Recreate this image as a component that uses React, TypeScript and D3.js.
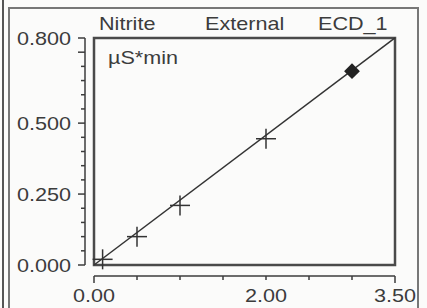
import React from 'react';
import * as d3 from 'd3';

// calibration points (amount vs area)
const stdAmounts = [0.1, 0.5, 1.0, 2.0];
const stdAreas = [0.02, 0.1, 0.21, 0.445];
const sampleAmount = [3.0];
const sampleArea = [0.683];
const slope = 0.2286;

const xTickLabels = ['0.00', '2.00', '3.50'];
const yTickLabels = ['0.000', '0.250', '0.500', '0.800'];
const titles = ['Nitrite', 'External', 'ECD_1'];

const W = 427;
const H = 308;
const ink = '#3c3c3c';
const fontFamily = '"Liberation Sans", Arial, sans-serif';

const Label = ({ x, y, anchor, children }) => (
  <text
    transform={`translate(${x},${y}) scale(1.2,1)`}
    textAnchor={anchor}
    fontSize={18}
    fontFamily={fontFamily}
    fill={ink}
  >
    {children}
  </text>
);

const App = () => {
  const x = d3.scaleLinear().domain([0, 3.5]).range([94, 395]);
  const y = d3.scaleLinear().domain([0, 0.8]).range([265, 38]);

  const yTicks = d3.range(0, 0.8001, 0.05);
  const xTicks = d3.range(0, 3.5001, 0.5);
  const yAxisX = 85;
  const xAxisY = 276;

  const line = d3
    .line()
    .x((d) => x(d[0]))
    .y((d) => y(d[1]));
  const fit = line([
    [0, 0],
    [3.5, slope * 3.5],
  ]);

  // square turned 45deg, as the sample marker
  const marker = d3.symbol().type(d3.symbolSquare).size(125)();

  return (
    <svg
      width={W}
      height={H}
      style={{ position: 'absolute', left: 0, top: 0, background: '#fbfbfa' }}
    >
      {/* window frames */}
      <line x1={3} x2={3} y1={0} y2={H} stroke="#555" strokeWidth={2} />
      <rect x={9} y={8} width={409} height={306} fill="none" stroke="#777" strokeWidth={2} />

      {/* header */}
      <Label x={99} y={30} anchor="start">{titles[0]}</Label>
      <Label x={205} y={30} anchor="start">{titles[1]}</Label>
      <Label x={318} y={30} anchor="start">{titles[2]}</Label>

      {/* plot frame */}
      <rect
        x={x(0)}
        y={y(0.8)}
        width={x(3.5) - x(0)}
        height={y(0) - y(0.8)}
        fill="none"
        stroke="#4a4a4a"
        strokeWidth={2.5}
      />
      <Label x={108} y={64} anchor="start">µS*min</Label>

      {/* y axis */}
      <line x1={yAxisX} x2={yAxisX} y1={y(0.8)} y2={y(0)} stroke={ink} strokeWidth={1.5} />
      {yTicks.map((t, i) => {
        const major = Math.abs(t - 0.25 * Math.round(t / 0.25)) < 1e-6 || i === yTicks.length - 1;
        return (
          <line
            key={i}
            x1={yAxisX - (major ? 7 : 4)}
            x2={yAxisX}
            y1={y(t)}
            y2={y(t)}
            stroke={ink}
            strokeWidth={1.5}
          />
        );
      })}
      {yTickLabels.map((l) => (
        <Label key={l} x={71} y={y(+l) + 6.5} anchor="end">{l}</Label>
      ))}

      {/* x axis */}
      <line x1={x(0)} x2={x(3.5)} y1={xAxisY} y2={xAxisY} stroke={ink} strokeWidth={1.5} />
      {xTicks.map((t, i) => {
        const major = i === 0 || i === xTicks.length - 1;
        return (
          <line
            key={i}
            x1={x(t)}
            x2={x(t)}
            y1={xAxisY}
            y2={xAxisY + (major ? 7 : 4)}
            stroke={ink}
            strokeWidth={1.5}
          />
        );
      })}
      {xTickLabels.map((l) => (
        <Label key={l} x={x(+l)} y={302} anchor="middle">{l}</Label>
      ))}

      {/* calibration line */}
      <path d={fit} fill="none" stroke="#333" strokeWidth={1.5} />

      {/* standards */}
      {stdAmounts.map((a, i) => (
        <g key={i} transform={`translate(${x(a)},${y(stdAreas[i])})`} stroke="#333" strokeWidth={1.5}>
          <line x1={-10} x2={10} y1={0} y2={0} />
          <line x1={0} x2={0} y1={-10} y2={10} />
        </g>
      ))}

      {/* sample */}
      {sampleAmount.map((a, i) => (
        <path
          key={i}
          d={marker}
          transform={`translate(${x(a)},${y(sampleArea[i])}) rotate(45)`}
          fill="#222"
        />
      ))}
    </svg>
  );
};

export default App;
